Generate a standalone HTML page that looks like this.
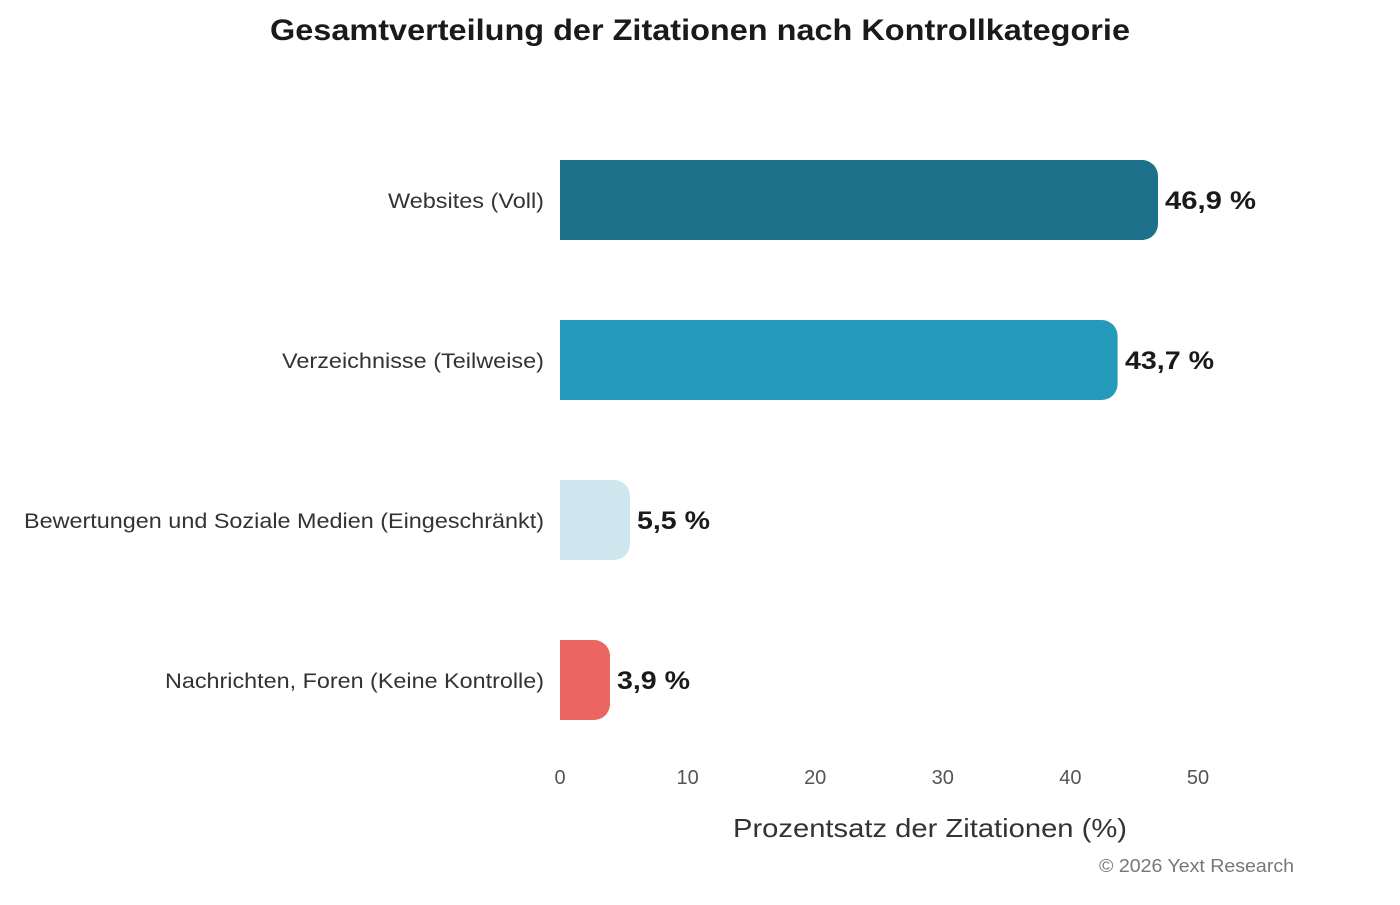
<!DOCTYPE html>
<html><head><meta charset="utf-8"><style>
body{margin:0;background:#fff;width:1400px;height:900px;overflow:hidden}
svg text{font-family:"Liberation Sans",Arial,sans-serif}
</style></head><body>
<svg width="1400" height="900" viewBox="0 0 1400 900">
<text x="270" y="40" textLength="860" lengthAdjust="spacingAndGlyphs" font-size="30" font-weight="bold" fill="#1a1a1a">Gesamtverteilung der Zitationen nach Kontrollkategorie</text>
<g font-size="21" fill="#333">
<text x="388" y="208" textLength="156" lengthAdjust="spacingAndGlyphs">Websites (Voll)</text>
<text x="282" y="368" textLength="262" lengthAdjust="spacingAndGlyphs">Verzeichnisse (Teilweise)</text>
<text x="24" y="528" textLength="520" lengthAdjust="spacingAndGlyphs">Bewertungen und Soziale Medien (Eingeschränkt)</text>
<text x="165" y="688" textLength="379" lengthAdjust="spacingAndGlyphs">Nachrichten, Foren (Keine Kontrolle)</text>
</g>
<path d="M560 160H1142a16 16 0 0 1 16 16V224a16 16 0 0 1-16 16H560Z" fill="#1d718a"/>
<path d="M560 320H1101.6a16 16 0 0 1 16 16V384a16 16 0 0 1-16 16H560Z" fill="#249bbb"/>
<path d="M560 480H614a16 16 0 0 1 16 16V544a16 16 0 0 1-16 16H560Z" fill="#cfe6ee"/>
<path d="M560 640H594a16 16 0 0 1 16 16V704a16 16 0 0 1-16 16H560Z" fill="#ec6661"/>
<g font-size="25" font-weight="bold" fill="#1a1a1a">
<text x="1165" y="209" textLength="91" lengthAdjust="spacingAndGlyphs">46,9 %</text>
<text x="1125" y="369" textLength="89" lengthAdjust="spacingAndGlyphs">43,7 %</text>
<text x="637" y="529" textLength="73" lengthAdjust="spacingAndGlyphs">5,5 %</text>
<text x="617" y="689" textLength="73" lengthAdjust="spacingAndGlyphs">3,9 %</text>
</g>
<g font-size="20" fill="#555" text-anchor="middle">
<text x="560" y="784">0</text>
<text x="687.6" y="784">10</text>
<text x="815.2" y="784">20</text>
<text x="942.8" y="784">30</text>
<text x="1070.4" y="784">40</text>
<text x="1198" y="784">50</text>
</g>
<text x="733" y="837" textLength="394" lengthAdjust="spacingAndGlyphs" font-size="26" fill="#333">Prozentsatz der Zitationen (%)</text>
<text x="1099" y="872" textLength="195" lengthAdjust="spacingAndGlyphs" font-size="18" fill="#777">© 2026 Yext Research</text>
</svg>
</body></html>
